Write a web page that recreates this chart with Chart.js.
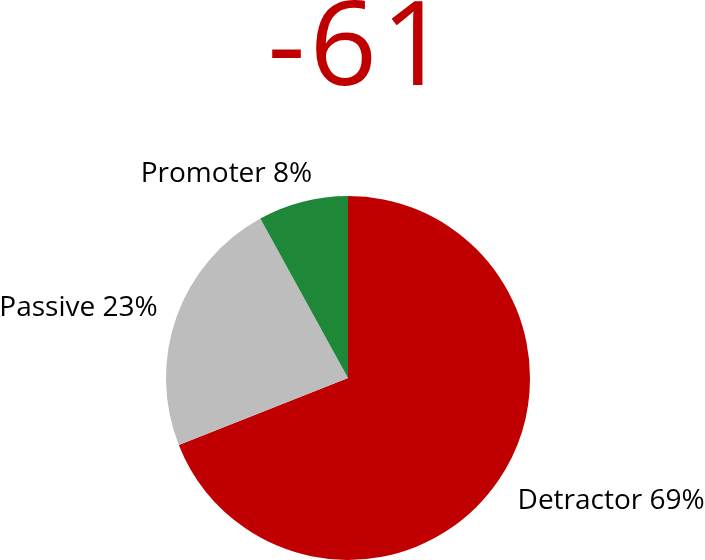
<!DOCTYPE html>
<html>
<head>
<meta charset="utf-8">
<script src="https://cdn.jsdelivr.net/npm/chart.js@4.4.1/dist/chart.umd.min.js"></script>
<style>
  html, body { margin: 0; padding: 0; background: #fff; }
  #wrap { width: 705px; height: 560px; position: relative; }
</style>
</head>
<body>
<div id="wrap"><canvas id="npsChart" width="705" height="560"></canvas></div>
<script>
const categories = ['Detractor', 'Passive', 'Promoter'];
const shares = [69, 23, 8];
const npsScore = '-61';
const sliceColors = ['#C00000', '#BDBDBE', '#1E8738'];

// nudge for each label, relative to the point just outside its slice
const labelNudge = [
    { dx: 4, dy: 11, align: 'left' },
    { dx: -2, dy: -2, align: 'right' },
    { dx: 14, dy: -10, align: 'right' }
];

const labelFont = '28px "Open Sans", sans-serif';

const npsLabels = {
    id: 'npsLabels',
    afterDraw(chart) {
        const ctx = chart.ctx;
        const arcs = chart.getDatasetMeta(0).data;
        ctx.save();

        // big score on top
        ctx.fillStyle = '#C00000';
        ctx.font = '118px "Open Sans", sans-serif';
        ctx.letterSpacing = '4px';
        ctx.textAlign = 'center';
        ctx.textBaseline = 'alphabetic';
        ctx.fillText(npsScore, 360, 85);
        ctx.letterSpacing = '0px';

        ctx.fillStyle = '#000';
        ctx.font = labelFont;
        ctx.textBaseline = 'middle';
        arcs.forEach(function (arc, i) {
            const mid = (arc.startAngle + arc.endAngle) / 2;
            const r = arc.outerRadius * 1.1;
            const x = arc.x + Math.cos(mid) * r + labelNudge[i].dx;
            const y = arc.y + Math.sin(mid) * r + labelNudge[i].dy;
            ctx.textAlign = labelNudge[i].align;
            ctx.fillText(categories[i] + ' ' + shares[i] + '%', x, y);
        });
        ctx.restore();
    }
};

const ctx = document.getElementById('npsChart').getContext('2d');
new Chart(ctx, {
    type: 'pie',
    data: {
        labels: categories,
        datasets: [{
            data: shares,
            backgroundColor: sliceColors,
            borderWidth: 0
        }]
    },
    options: {
        responsive: false,
        animation: false,
        layout: {
            padding: { left: 166, right: 175, top: 196, bottom: 0 }
        },
        plugins: {
            legend: { display: false },
            tooltip: { enabled: false }
        }
    },
    plugins: [npsLabels]
});
</script>
</body>
</html>
